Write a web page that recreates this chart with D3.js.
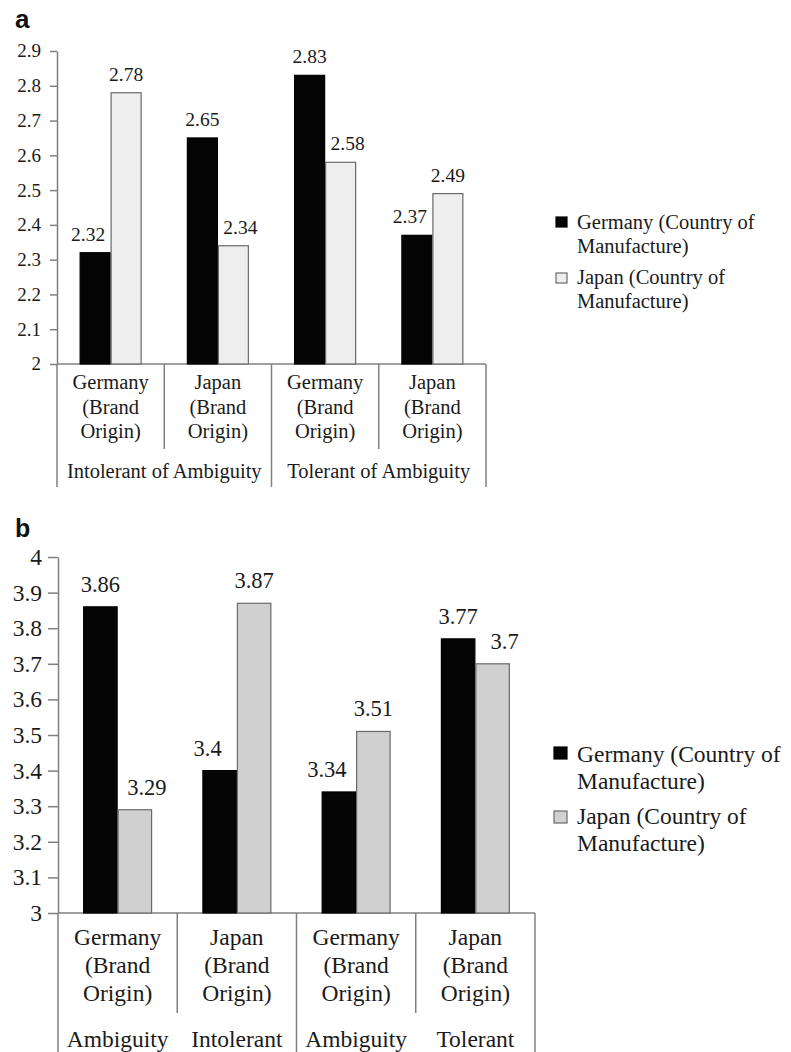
<!DOCTYPE html>
<html><head><meta charset="utf-8">
<script src="https://cdn.jsdelivr.net/npm/d3@7"></script>
<style>
body{margin:0;background:#fff}
</style>
</head><body>
<svg id="c" width="791" height="1052" font-family="Liberation Serif"></svg>
<script>
// ---------- data ----------
const seriesNames = ["Germany (Country of Manufacture)", "Japan (Country of Manufacture)"];
const legendLines = [["Germany (Country of", "Manufacture)"], ["Japan (Country of", "Manufacture)"]];
const categories = ["Germany (Brand Origin)", "Japan (Brand Origin)", "Germany (Brand Origin)", "Japan (Brand Origin)"];

// panel a
const groupsA = ["Intolerant of Ambiguity", "Tolerant of Ambiguity"];
const germanyA = [2.32, 2.65, 2.83, 2.37];
const japanA = [2.78, 2.34, 2.58, 2.49];
const tickLabelsA = ["2", "2.1", "2.2", "2.3", "2.4", "2.5", "2.6", "2.7", "2.8", "2.9"];

// panel b
const tierLabelsB = ["Ambiguity", "Intolerant", "Ambiguity", "Tolerant"];
const germanyB = [3.86, 3.40, 3.34, 3.77];
const japanB = [3.29, 3.87, 3.51, 3.70];
const tickLabelsB = ["3", "3.1", "3.2", "3.3", "3.4", "3.5", "3.6", "3.7", "3.8", "3.9", "4"];

// ---------- drawing ----------
const svg = d3.select("#c");
const TXT = "#1a1a1a";
const AX = "#808080";

function txt(sel, size) {
  return sel.style("font-family", '"Liberation Serif"').style("font-size", size + "px").attr("fill", TXT);
}

function drawPanel(cfg) {
  const g = svg.append("g");
  const tickVals = cfg.ticks.map(Number);
  const y = d3.scaleLinear().domain([tickVals[0], tickVals[tickVals.length - 1]]).range([cfg.yBottom, cfg.yTop]);
  const x = d3.scaleBand().domain(d3.range(categories.length)).range([cfg.x0, cfg.x1]).padding(0);
  const inner = d3.scaleBand().domain([0, 1]).range([0, x.bandwidth()]).paddingInner(0).paddingOuter(0.73);
  const series = [cfg.germany, cfg.japan];
  const fills = ["#050505", cfg.lightFill];
  const strokes = ["#000", "#6a6a6a"];

  // panel letter
  g.append("text").attr("x", 15).attr("y", cfg.letterY).text(cfg.letter)
    .style("font-family", '"Liberation Sans"').style("font-weight", "bold")
    .style("font-size", cfg.letterSize + "px").attr("fill", "#111");

  // y axis: ticks via d3 axis, labels drawn as own texts from the tick scale
  const ya = g.append("g").attr("transform", `translate(${cfg.x0},0)`)
    .call(d3.axisLeft(y).tickValues(tickVals).tickSize(cfg.tickLen).tickSizeOuter(0).tickFormat(""));
  ya.selectAll("path,line").attr("stroke", AX).attr("stroke-width", 1.5);
  ya.selectAll("text").remove();
  tickVals.forEach((v, i) => {
    txt(g.append("text").attr("x", cfg.x0 - cfg.tickLen - cfg.tickPad).attr("y", y(v)).attr("dy", "0.34em")
      .attr("text-anchor", "end"), cfg.tickSize).text(cfg.ticks[i]);
  });

  // baseline
  g.append("line").attr("x1", cfg.x0).attr("x2", cfg.x1).attr("y1", y(tickVals[0])).attr("y2", y(tickVals[0]))
    .attr("stroke", AX).attr("stroke-width", 1.5);

  // dividers
  const bounds = d3.range(categories.length + 1).map(i => i < categories.length ? x(i) : cfg.x1);
  g.selectAll(".div").data(bounds).join("line")
    .attr("x1", d => d).attr("x2", d => d)
    .attr("y1", y(tickVals[0]))
    .attr("y2", (d, i) => (i % 2 === 0) ? cfg.longEnd : cfg.shortEnd)
    .attr("stroke", AX).attr("stroke-width", 1.5);

  // bars
  series.forEach((vals, s) => {
    g.selectAll(".bar" + s).data(vals).join("rect")
      .attr("x", (d, i) => x(i) + inner(s) + 0.5)
      .attr("width", inner.bandwidth() - 1)
      .attr("y", d => y(d))
      .attr("height", d => y(tickVals[0]) - y(d))
      .attr("fill", fills[s]).attr("stroke", strokes[s]).attr("stroke-width", 1.2);
  });

  // value labels (shorter bar label moved outward when it would touch the taller neighbour)
  series.forEach((vals, s) => {
    const other = series[1 - s];
    vals.forEach((d, i) => {
      let cx = x(i) + inner(s) + inner.bandwidth() / 2;
      if (other[i] > d && y(other[i]) < y(d) - cfg.valGap) cx += (s === 0 ? -1 : 1) * cfg.shift;
      txt(g.append("text").attr("x", cx).attr("y", y(d) - cfg.valGap).attr("text-anchor", "middle"), cfg.valSize)
        .text(String(d));
    });
  });

  // category labels
  categories.forEach((c, i) => {
    c.split(" ").forEach((w, k) => {
      txt(g.append("text").attr("x", x(i) + x.bandwidth() / 2).attr("y", cfg.catY + k * cfg.catLine)
        .attr("text-anchor", "middle"), cfg.catSize).text(w);
    });
  });

  // second tier labels
  if (cfg.groups) {
    cfg.groups.forEach((t, j) => {
      txt(g.append("text").attr("x", (bounds[2 * j] + bounds[2 * j + 2]) / 2).attr("y", cfg.tierY)
        .attr("text-anchor", "middle"), cfg.catSize).text(t);
    });
  } else {
    cfg.tiers.forEach((t, i) => {
      txt(g.append("text").attr("x", x(i) + x.bandwidth() / 2).attr("y", cfg.tierY)
        .attr("text-anchor", "middle"), cfg.catSize).text(t);
    });
  }

  // legend
  seriesNames.forEach((n, s) => {
    const top = cfg.legY[s];
    g.append("rect").attr("x", cfg.legX).attr("y", top).attr("width", cfg.legSq[0]).attr("height", cfg.legSq[1])
      .attr("fill", fills[s]).attr("stroke", strokes[s]).attr("stroke-width", 1.2);
    legendLines[s].forEach((l, k) => {
      txt(g.append("text").attr("x", cfg.legTextX).attr("y", cfg.legBase[s] + k * cfg.legLine), cfg.legSize).text(l);
    });
  });
}

drawPanel({
  letter: "a", letterY: 28, letterSize: 26,
  ticks: tickLabelsA, germany: germanyA, japan: japanA, lightFill: "#eeeeee",
  yBottom: 364, yTop: 51, x0: 57, x1: 486,
  tickLen: 7, tickPad: 9, tickSize: 19,
  valGap: 12, valSize: 19.5, shift: 7,
  catY: 389, catLine: 24.5, catSize: 20.5,
  groups: groupsA, tierY: 478,
  shortEnd: 449, longEnd: 487,
  legX: 556, legTextX: 577, legSq: [11, 10], legY: [217, 273], legBase: [229, 284], legLine: 24, legSize: 20.5
});

drawPanel({
  letter: "b", letterY: 537, letterSize: 25,
  ticks: tickLabelsB, germany: germanyB, japan: japanB, lightFill: "#d0d0d0",
  yBottom: 913, yTop: 557, x0: 58, x1: 535,
  tickLen: 10, tickPad: 6, tickSize: 23.5,
  valGap: 15, valSize: 22.5, shift: 12,
  catY: 945, catLine: 28, catSize: 23.5,
  tiers: tierLabelsB, tierY: 1047,
  shortEnd: 1013, longEnd: 1052,
  legX: 554, legTextX: 577, legSq: [13, 12], legY: [747, 811], legBase: [762, 824], legLine: 26.5, legSize: 23.5
});
</script>
</body></html>
